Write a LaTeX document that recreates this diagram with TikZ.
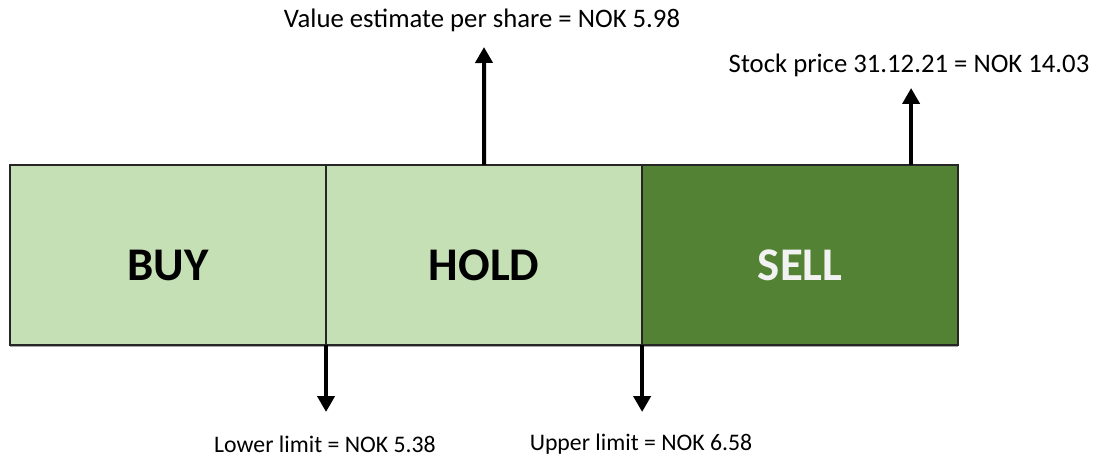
\documentclass[tikz,border=0pt]{standalone}
\usepackage{fontspec}
\setmainfont{Carlito}
\usetikzlibrary{positioning, arrows.meta, calc, shadows}
\definecolor{zoneL}{HTML}{C5E0B4}
\definecolor{zoneD}{HTML}{548235}
\colorlet{rule}{black!85}
\tikzset{
  zone/.style    ={draw=rule, line width=1.3pt, outer sep=0pt, inner sep=0pt,
                   minimum width=7.9cm, minimum height=4.5cm,
                   text height=1.25cm, text depth=0pt,
                   font=\bfseries\fontsize{33.3}{40}\selectfont,
                   drop shadow={shadow xshift=0pt, shadow yshift=-1.2pt,
                                fill=black, opacity=0.35}},
  zoneL/.style   ={zone, fill=zoneL, text=black},
  zoneD/.style   ={zone, fill=zoneD, text=black!5},
  pointer/.style ={-{Triangle[length=16*0.025cm, width=17*0.025cm]},
                   line width=0.1cm, black},
  lbl/.style     ={font=\fontsize{19}{23}\selectfont, inner sep=0pt},
  lblS/.style    ={lbl, font=\fontsize{16.9}{20}\selectfont},
}

\begin{document}
\begin{tikzpicture}[x=0.025cm, y=-0.025cm]
\useasboundingbox (0,0) rectangle (1096,459);

% --- three zones ---
\node[zoneL] (buy)  at (168,255) {BUY};
\node[zoneL, right=0pt of buy] (hold) {HOLD};
\node[zoneD, right=0pt of hold] (sell) {SELL};

% --- tips of the arrows ---
\coordinate (valTip)   at (484,47);
\coordinate (stockTop) at ($(sell.north west)!0.851!(sell.north east)$);
\coordinate (stockTip) at (stockTop |- 0,88);
\coordinate (lowTip)   at (buy.south east |- 0,412);
\coordinate (upTip)    at (hold.south east |- 0,412);

% --- labels ---
\node[lbl]  (valLbl)   at (482,20)  {Value estimate per share = NOK 5.98};
\node[lbl]  (stockLbl) at (909,65)  {Stock price 31.12.21 = NOK 14.03};
\node[lblS] (lowLbl)   at (325,444) {Lower limit = NOK 5.38};
\node[lblS] (upLbl)    at (641,444) {Upper limit = NOK 6.58};

% --- arrows ---
\draw[pointer] (hold.north)      -- (valTip);
\draw[pointer] (stockTop)        -- (stockTip);
\draw[pointer] (buy.south east)  -- (lowTip);
\draw[pointer] (hold.south east) -- (upTip);

\end{tikzpicture}
\end{document}
